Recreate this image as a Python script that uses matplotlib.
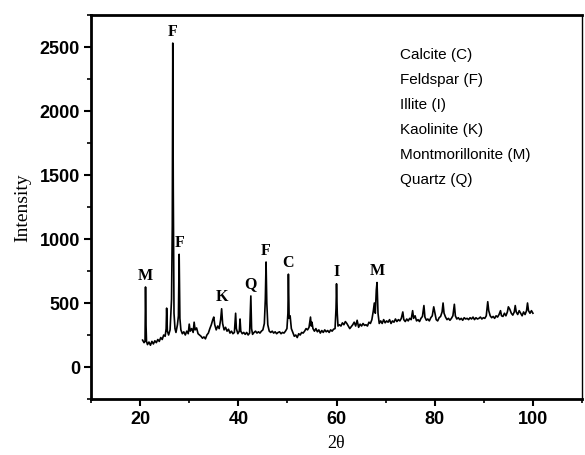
import numpy as np
import matplotlib.pyplot as plt
from matplotlib.ticker import MultipleLocator

# 2theta / intensity
two_theta = [
    20.5, 20.8, 21.0, 21.1, 21.2, 21.3, 21.5, 21.8, 22.1, 22.4, 22.7, 23.0, 23.3, 23.6, 23.9,
    24.2, 24.5, 24.8, 25.1, 25.3, 25.4, 25.55, 25.8, 26.1, 26.4, 26.55, 26.65, 26.75, 26.9,
    27.1, 27.3, 27.6, 27.8, 27.95, 28.1, 28.3, 28.6, 28.9, 29.2, 29.5, 29.8, 30.0, 30.2, 30.5,
    30.8, 31.0, 31.2, 31.5, 31.8, 32.1, 32.4, 32.7, 33.0, 33.3, 33.6, 33.9, 34.2, 34.5, 34.8,
    35.0, 35.2, 35.5, 35.8, 36.1, 36.4, 36.6, 36.8, 37.1, 37.4, 37.7, 38.0, 38.3, 38.6, 38.9,
    39.2, 39.45, 39.6, 39.9, 40.2, 40.35, 40.5, 40.8, 41.1, 41.4, 41.7, 42.0, 42.3, 42.55,
    42.7, 42.9, 43.2, 43.5, 43.8, 44.1, 44.4, 44.7, 45.0, 45.3, 45.5, 45.65, 45.8, 46.0,
    46.3, 46.6, 46.9, 47.2, 47.5, 47.8, 48.1, 48.4, 48.7, 49.0, 49.3, 49.6, 49.9, 50.1,
    50.2, 50.35, 50.55, 50.8, 51.1, 51.4, 51.7, 52.0, 52.3, 52.6, 52.9, 53.2, 53.5, 53.8,
    54.1, 54.4, 54.7, 54.85, 55.0, 55.2, 55.5, 55.8, 56.1, 56.4, 56.7, 57.0, 57.3, 57.6,
    57.9, 58.2, 58.5, 58.8, 59.1, 59.4, 59.7, 59.9, 60.0, 60.15, 60.3, 60.6, 60.9, 61.2,
    61.5, 61.8, 62.1, 62.4, 62.7, 63.0, 63.3, 63.6, 63.9, 64.2, 64.5, 64.8, 65.1, 65.4,
    65.7, 66.0, 66.3, 66.6, 66.9, 67.2, 67.5, 67.7, 67.9, 68.1, 68.25, 68.45, 68.7, 69.0,
    69.3, 69.6, 69.9, 70.2, 70.5, 70.8, 71.1, 71.4, 71.7, 72.0, 72.3, 72.6, 72.9, 73.2,
    73.5, 73.7, 74.0, 74.3, 74.6, 74.9, 75.2, 75.5, 75.7, 76.0, 76.3, 76.6, 76.9, 77.2,
    77.5, 77.8, 78.0, 78.3, 78.6, 78.9, 79.2, 79.5, 79.8, 80.0, 80.3, 80.6, 80.9, 81.2,
    81.5, 81.7, 81.9, 82.2, 82.5, 82.8, 83.1, 83.4, 83.7, 84.0, 84.2, 84.5, 84.8, 85.1,
    85.4, 85.7, 86.0, 86.3, 86.6, 86.9, 87.2, 87.5, 87.8, 88.1, 88.4, 88.7, 89.0, 89.3,
    89.6, 89.9, 90.2, 90.5, 90.8, 91.0, 91.3, 91.6, 91.9, 92.2, 92.5, 92.8, 93.1, 93.4,
    93.6, 93.9, 94.2, 94.5, 94.8, 95.0, 95.3, 95.6, 95.9, 96.2, 96.4, 96.6, 96.9, 97.2,
    97.5, 97.8, 98.1, 98.4, 98.7, 98.9, 99.1, 99.4, 99.7, 100.0,
]
intensity = [
    210, 190, 200, 625, 330, 200, 175, 195, 170, 200, 180, 205, 190, 215, 200,
    230, 215, 250, 240, 300, 460, 280, 250, 290, 530, 1100, 2530, 1400, 420,
    300, 270, 330, 400, 880, 380, 290, 260, 275, 250, 280, 260, 335, 280, 300,
    270, 350, 290, 305, 260, 250, 240, 225, 235, 220, 250, 265, 300, 330, 370,
    390, 330, 290, 320, 300, 370, 455, 340, 290, 310, 280, 295, 265, 280, 260,
    270, 420, 300, 260, 280, 375, 280, 260, 270, 255, 270, 250, 265, 555,
    300, 255, 270, 280, 265, 275, 265, 280, 290, 340, 530, 820, 500, 330,
    280, 270, 280, 265, 275, 260, 270, 275, 260, 270, 265, 280, 300, 420,
    725, 380, 400, 300, 270, 240, 250, 230, 260, 250, 270, 265, 280, 300,
    290, 310, 390, 320, 350, 300, 280, 300, 275, 290, 265, 285, 270, 290,
    275, 285, 270, 290, 280, 295, 300, 460, 650, 420, 320, 330, 320, 345,
    330, 355, 340, 320, 300, 315, 330, 350, 320, 365, 310, 335, 320, 340,
    325, 330, 320, 350, 340, 370, 440, 500, 420, 600, 660, 420, 340, 360,
    340, 370, 345, 360, 350, 370, 340, 360, 350, 375, 355, 370, 360, 380,
    430, 370, 355, 375, 360, 380, 370, 440, 380, 400, 360, 370, 355, 380,
    395, 480, 390, 365, 375, 360, 385, 400, 470, 430, 370, 360, 385, 395,
    430, 500, 420, 390, 370, 380, 365, 380, 400, 490, 400, 375, 385, 370,
    380, 365, 385, 375, 380, 370, 385, 375, 390, 370, 385, 375, 380, 390,
    375, 385, 380, 400, 510, 440, 400, 385, 395, 380, 400, 390, 410, 440,
    400, 395, 420, 400, 430, 470, 450, 420, 405, 430, 480, 430, 410, 440,
    420, 400, 430, 410, 440, 500, 440, 420, 440, 420,
]

# peak labels
peak_labels = ['M', 'F', 'F', 'K', 'Q', 'F', 'C', 'I', 'M']
peak_x = [21.1, 26.65, 28.0, 36.6, 42.55, 45.65, 50.2, 60.0, 68.25]
peak_y = [625, 2530, 880, 455, 555, 820, 725, 650, 660]

phases = ['Calcite (C)', 'Feldspar (F)', 'Illite (I)', 'Kaolinite (K)',
          'Montmorillonite (M)', 'Quartz (Q)']

fig = plt.figure(figsize=(5.85, 4.56), dpi=100)
ax = fig.add_axes([0.1556, 0.1228, 0.8393, 0.8422])

ax.plot(two_theta, intensity, color='black', linewidth=1.2)

for lab, px, py in zip(peak_labels, peak_x, peak_y):
    ax.text(px, py + 35, lab, ha='center', va='bottom', fontsize=11.5,
            fontweight='bold', family='Liberation Serif')

for i, name in enumerate(phases):
    ax.text(0.629, 0.898 - i * 0.065, name, transform=ax.transAxes,
            ha='left', va='center', fontsize=11, family='Liberation Sans')

ax.set_xlim(10, 110)
ax.set_ylim(-250, 2750)
ax.xaxis.set_major_locator(MultipleLocator(20))
ax.xaxis.set_minor_locator(MultipleLocator(10))
ax.yaxis.set_major_locator(MultipleLocator(500))
ax.yaxis.set_minor_locator(MultipleLocator(250))

ax.tick_params(which='major', direction='out', length=5, width=1.5,
               labelsize=13, pad=3)
ax.tick_params(which='minor', direction='out', length=3, width=1.2)
for lab in ax.get_xticklabels() + ax.get_yticklabels():
    lab.set_fontweight('bold')
    lab.set_family('Liberation Sans')

for side in ['left', 'bottom', 'top']:
    ax.spines[side].set_linewidth(2)
ax.spines['right'].set_linewidth(1)

ax.set_xlabel('2θ', family='Liberation Serif', fontsize=13, labelpad=5)
ax.set_ylabel('Intensity', family='Liberation Serif', fontsize=14, labelpad=6)

fig.savefig('out.png', dpi=100)
